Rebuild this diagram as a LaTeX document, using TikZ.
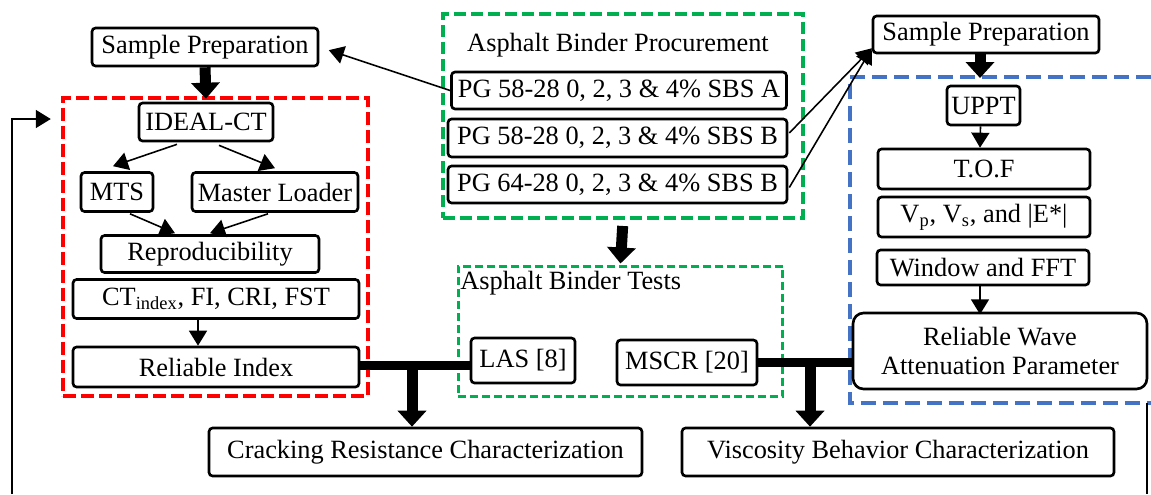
\documentclass[tikz,border=0pt]{standalone}
\usepackage{fontspec}
\setmainfont{Liberation Serif}
\usetikzlibrary{arrows.meta,calc}
\definecolor{boxred}{HTML}{FF0000}
\definecolor{boxgreen}{HTML}{00B050}
\definecolor{boxblue}{HTML}{4472C4}
\tikzset{
  box/.style={draw, line width=1.5pt, rounded corners=2pt, inner sep=0pt, font=\fontsize{15}{17}\selectfont},
  label/.style={inner sep=0pt, font=\fontsize{15}{17}\selectfont},
  thin/.style={line width=0.9pt, -{Triangle[width=0.36cm,length=0.3cm]}},
  bigline/.style={line width=0.18cm},
  bigarrow/.style={line width=0.22cm, -{Triangle[width=0.56cm,length=0.32cm]}},
  redgroup/.style={draw=boxred, line width=0.09cm, dash pattern=on 0.26cm off 0.1cm, inner sep=0pt},
  greengroup/.style={draw=boxgreen, line width=0.08cm, dash pattern=on 0.24cm off 0.1cm, inner sep=0pt},
  testgroup/.style={draw=boxgreen, line width=0.06cm, dash pattern=on 0.16cm off 0.08cm, inner sep=0pt},
  bluegroup/.style={draw=boxblue, line width=0.09cm, dash pattern=on 0.3cm off 0.14cm}
}
\begin{document}
\begin{tikzpicture}[x=0.02cm,y=-0.02cm]
  \useasboundingbox (0,0) rectangle (1151,494);
  \node [redgroup, minimum width=6.10cm, minimum height=5.96cm] (ctgroup) at (215.5,247) {};
  \node [greengroup, minimum width=7.20cm, minimum height=4.08cm] (procure) at (623,116) {};
  \node [testgroup, minimum width=6.50cm, minimum height=2.62cm] (tests) at (620.5,331.5) {};
  \draw [bluegroup] (1151,77) -- (850,77) -- (850,403) -- (1151,403);

  \node [box, minimum width=4.52cm, minimum height=0.76cm] (sampleL) at (205,47) {Sample Preparation};
  \node [box, minimum width=2.68cm, minimum height=0.76cm] (idealct) at (206,122) {IDEAL-CT};
  \node [box, minimum width=1.44cm, minimum height=0.78cm] (mts) at (117,192) {MTS};
  \node [box, minimum width=3.32cm, minimum height=0.78cm] (master) at (275,192) {Master Loader};
  \node [box, minimum width=4.36cm, minimum height=0.74cm] (repro) at (210,254) {Reproducibility};
  \node [box, minimum width=5.72cm, minimum height=0.78cm] (ctindex) at (216,299) {CT\textsubscript{index}, FI, CRI, FST};
  \node [box, minimum width=5.72cm, minimum height=0.80cm] (relindex) at (216,367) {Reliable Index};
  \node [box, minimum width=8.66cm, minimum height=0.96cm] (crack) at (425.5,452) {Cracking Resistance Characterization};

  \node [label] (proctitle) at (618,45) {Asphalt Binder Procurement};
  \node [box, minimum width=6.70cm, minimum height=0.74cm] (pgA) at (619,90.5) {PG 58-28 0, 2, 3 \& 4\% SBS A};
  \node [box, minimum width=6.78cm, minimum height=0.76cm] (pgB) at (617.5,138) {PG 58-28 0, 2, 3 \& 4\% SBS B};
  \node [box, minimum width=6.78cm, minimum height=0.74cm] (pgC) at (617.5,184.5) {PG 64-28 0, 2, 3 \& 4\% SBS B};
  \node [label, anchor=west] (testtitle) at (460,283) {Asphalt Binder Tests};
  \node [box, minimum width=2.08cm, minimum height=0.90cm] (las) at (523,360.5) {LAS [8]};
  \node [box, minimum width=2.80cm, minimum height=0.90cm] (mscr) at (687,362.5) {MSCR [20]};
  \node [box, minimum width=8.64cm, minimum height=0.96cm] (visc) at (898,452) {Viscosity Behavior Characterization};

  \node [box, minimum width=4.52cm, minimum height=0.74cm] (sampleR) at (986,34.5) {Sample Preparation};
  \node [box, minimum width=1.46cm, minimum height=0.78cm] (uppt) at (983.5,105.5) {UPPT};
  \node [box, minimum width=4.24cm, minimum height=0.80cm] (tof) at (984,169) {T.O.F};
  \node [box, minimum width=4.24cm, minimum height=0.80cm] (vel) at (984,217) {V\textsubscript{p}, V\textsubscript{s}, and |E*|};
  \node [box, minimum width=4.24cm, minimum height=0.70cm] (window) at (983,267.5) {Window and FFT};
  \node [box, minimum width=5.88cm, minimum height=1.52cm, rounded corners=6pt, align=center] (wave) at (1000,351) {Reliable Wave\\Attenuation Parameter};

  \draw [bigarrow] (sampleL.south) -- ($(idealct.north)+(0,-3)$);
  \draw [thin] ($(idealct.south)+(-29,2)$) -- ($(mts.north)+(-4,-5)$);
  \draw [thin] ($(idealct.south)+(13,3)$) -- ($(master.north)+(0,-3)$);
  \draw [thin] ($(mts.south)+(13,1)$) -- ($(repro.north)+(-35,-1)$);
  \draw [thin] ($(master.south)+(-7,1)$) -- ($(repro.north)+(0,-1)$);
  \draw [thin] ($(ctindex.south)+(-18,0)$) -- ($(relindex.north)+(-18,0)$);
  \draw [thin, shorten >=0.2cm] (pgA.west) -- (sampleL.east);
  \draw [thin] ($(pgB.east)+(1,-5)$) -- ($(sampleR.south west)+(0,-6)$);
  \draw [thin] ($(pgC.east)+(1,3)$) -- ($(sampleR.south west)+(0,-6)$);
  \draw [bigarrow, shorten <=0.12cm] (procure.south) -- ($(tests.north)+(0,-1)$);
  \draw [bigarrow] ($(sampleR.south)+(-6,0)$) -- (980,78);
  \draw [thin] ($(uppt.south)+(-3,0)$) -- ($(tof.north)+(-4,0)$);
  \draw [thin] ($(window.south)+(-3,0)$) -- ($(window.south)+(-3,28)$);

  \coordinate (jl) at (412,365);
  \coordinate (jr) at (810,362);
  \draw [bigline] ($(relindex.east)+(0,-2)$) -- ($(relindex.east -| las.west)+(0,-2)$);
  \draw [bigarrow] (jl) -- (jl |- crack.north);
  \draw [bigline] (mscr.east) -- (mscr.east -| wave.west);
  \draw [bigarrow] (jr) -- (jr |- visc.north);

  \coordinate (fbl) at (12,494);
  \coordinate (fbr) at (1147,494);
  \draw [thin] (fbl) -- (12,119) -- ($(ctgroup.west |- 0,119)+(-10,0)$);
  \draw [line width=0.9pt] (1147,403) -- (fbr);
\end{tikzpicture}
\end{document}
